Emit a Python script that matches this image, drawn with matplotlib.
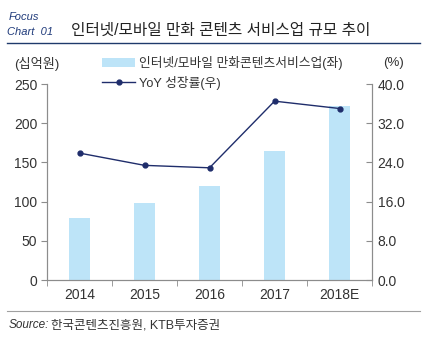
import matplotlib
matplotlib.use("Agg")
import matplotlib.pyplot as plt
from matplotlib.lines import Line2D
from matplotlib.patches import Patch
import numpy as np

plt.rcParams['font.family'] = ['Liberation Sans', 'Noto Sans CJK KR', 'DejaVu Sans']

categories = ['2014', '2015', '2016', '2017', '2018E']
market_size = [79, 98, 120, 165, 222]      # 십억원
yoy_growth = [25.9, 23.4, 22.9, 36.5, 35.0]  # %
left_ticks = [0, 50, 100, 150, 200, 250]
right_ticks = [0.0, 8.0, 16.0, 24.0, 32.0, 40.0]

bar_color = '#BDE4F8'
line_color = '#1F2D6B'
axis_gray = '#8C8C8C'
text_color = '#333333'

fig = plt.figure(figsize=(4.34, 3.59), dpi=100)
ax = fig.add_axes([0.1083, 0.22, 0.749, 0.546])
ax2 = ax.twinx()

x = np.arange(len(categories))
ax.bar(x, market_size, width=0.32, color=bar_color, zorder=1)
ax2.plot(x, yoy_growth, color=line_color, lw=1.0, marker='o', ms=3.5, zorder=3)

ax.set_xlim(-0.5, len(categories) - 0.5)
ax.set_ylim(0, 250)
ax2.set_ylim(0, 40)
ax.set_yticks(left_ticks)
ax.set_yticklabels([str(t) for t in left_ticks])
ax2.set_yticks(right_ticks)
ax2.set_yticklabels([f'{t:.1f}' for t in right_ticks])

ax.set_xticks(x)
ax.set_xticklabels(categories)
ax.set_xticks(np.arange(len(categories) + 1) - 0.5, minor=True)
ax.tick_params(axis='x', which='major', length=0, pad=6, labelsize=10, colors=text_color)
ax.tick_params(axis='x', which='minor', length=4, color=axis_gray, direction='out')
ax.tick_params(axis='y', length=4, color=axis_gray, direction='out', labelsize=10, colors=text_color, pad=3)
ax2.tick_params(axis='y', length=4, color=axis_gray, direction='in', labelsize=10, colors=text_color, pad=4)

for a in (ax, ax2):
    a.spines['top'].set_visible(False)
    for s in ('left', 'right', 'bottom'):
        a.spines[s].set_color(axis_gray)
        a.spines[s].set_linewidth(0.8)
for t in ax.get_yticklines():
    t.set_color(axis_gray)
for t in ax2.get_yticklines():
    t.set_color(axis_gray)

ax2.patch.set_visible(False)

# unit labels
fig.text(14 / 434, 1 - 64 / 359, '(십억원)', fontsize=9.5, color=text_color, va='center', ha='left')
fig.text(383 / 434, 1 - 63 / 359, '(%)', fontsize=9.5, color=text_color, va='center', ha='left')

# legend
handles = [Patch(facecolor=bar_color, edgecolor='none'),
           Line2D([0], [0], color=line_color, lw=1.0, marker='o', ms=3.5)]
labels = ['인터넷/모바일 만화콘텐츠서비스업(좌)', 'YoY 성장률(우)']
fig.legend(handles, labels, loc='upper left', bbox_to_anchor=(102 / 434, 1 - 56 / 359),
           frameon=False, fontsize=9.2, handlelength=2.6, handleheight=0.7,
           handletextpad=0.3, labelspacing=0.45, borderaxespad=0, borderpad=0,
           labelcolor=text_color)

# header
fig.text(9 / 434, 1 - 17 / 359, 'Focus', fontsize=8, style='italic', color='#1F3A7A', va='center', ha='left')
fig.text(7 / 434, 1 - 32 / 359, 'Chart  01', fontsize=8, style='italic', color='#1F3A7A', va='center', ha='left')
fig.text(71 / 434, 1 - 30 / 359, '인터넷/모바일 만화 콘텐츠 서비스업 규모 추이', fontsize=11.3,
         color='#222222', va='center', ha='left')
fig.add_artist(Line2D([7 / 434, 420 / 434], [1 - 43 / 359, 1 - 43 / 359], color='#1F3A6B', lw=1.0))
fig.add_artist(Line2D([7 / 434, 420 / 434], [1 - 311 / 359, 1 - 311 / 359], color='#A0A0A0', lw=0.8))

fig.text(9 / 434, 1 - 325 / 359, 'Source:', fontsize=8.5, style='italic', color='#333333', va='center', ha='left')
fig.text(51 / 434, 1 - 325 / 359, '한국콘텐츠진흥원, KTB투자증권', fontsize=9, color='#333333', va='center', ha='left')

fig.savefig('out.png', dpi=100)
